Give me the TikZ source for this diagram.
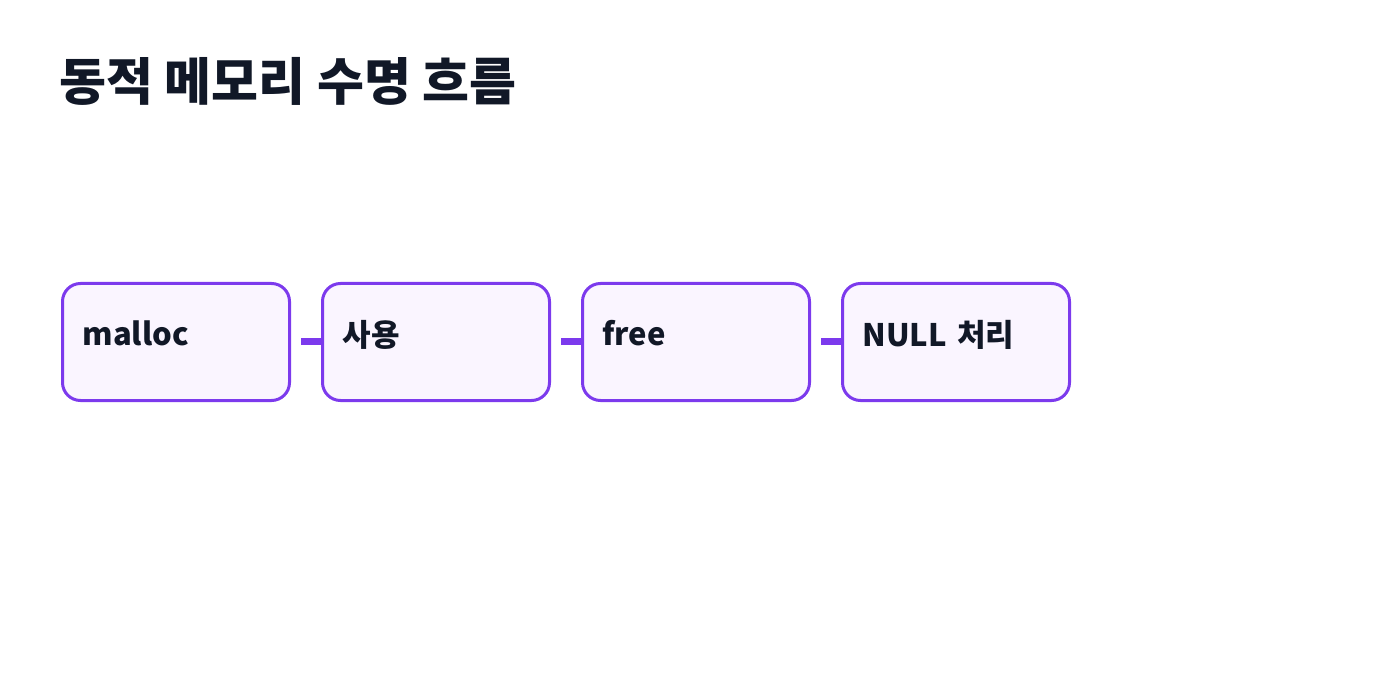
\documentclass[tikz,border=0pt]{standalone}
\usepackage{fontspec}
\setmainfont{Noto Sans CJK KR}
\usepackage{tikz}
\usetikzlibrary{positioning}
\definecolor{stage}{RGB}{124,58,237}
\definecolor{stagefill}{RGB}{250,245,255}
\definecolor{ink}{RGB}{17,24,39}

\begin{document}
\begin{tikzpicture}[
  x=1pt, y=-1pt,
  node distance=30pt,
  title/.style={anchor=west, inner sep=0pt, text=ink, font=\fontsize{51}{60}\selectfont\bfseries},
  stagebox/.style={draw=stage, line width=3pt, fill=stagefill, rounded corners=18pt,
    minimum width=227pt, minimum height=117pt, text width=187pt, align=left,
    text=ink, font=\fontsize{31}{36}\selectfont\bfseries, text depth=18pt},
  link/.style={draw=stage, line width=7pt, shorten <=10pt}
]
\useasboundingbox (0,0) rectangle (1400,700);
\node[title] (head) at (59,81) {동적 메모리 수명 흐름};
\node[stagebox, anchor=north west] (alloc) at (61,282) {malloc};
\node[stagebox, right=of alloc] (use) {사용};
\node[stagebox, right=of use] (release) {free};
\node[stagebox, right=of release] (nullify) {NULL 처리};
\draw[link] (alloc) -- (use);
\draw[link] (use) -- (release);
\draw[link] (release) -- (nullify);
\end{tikzpicture}
\end{document}
